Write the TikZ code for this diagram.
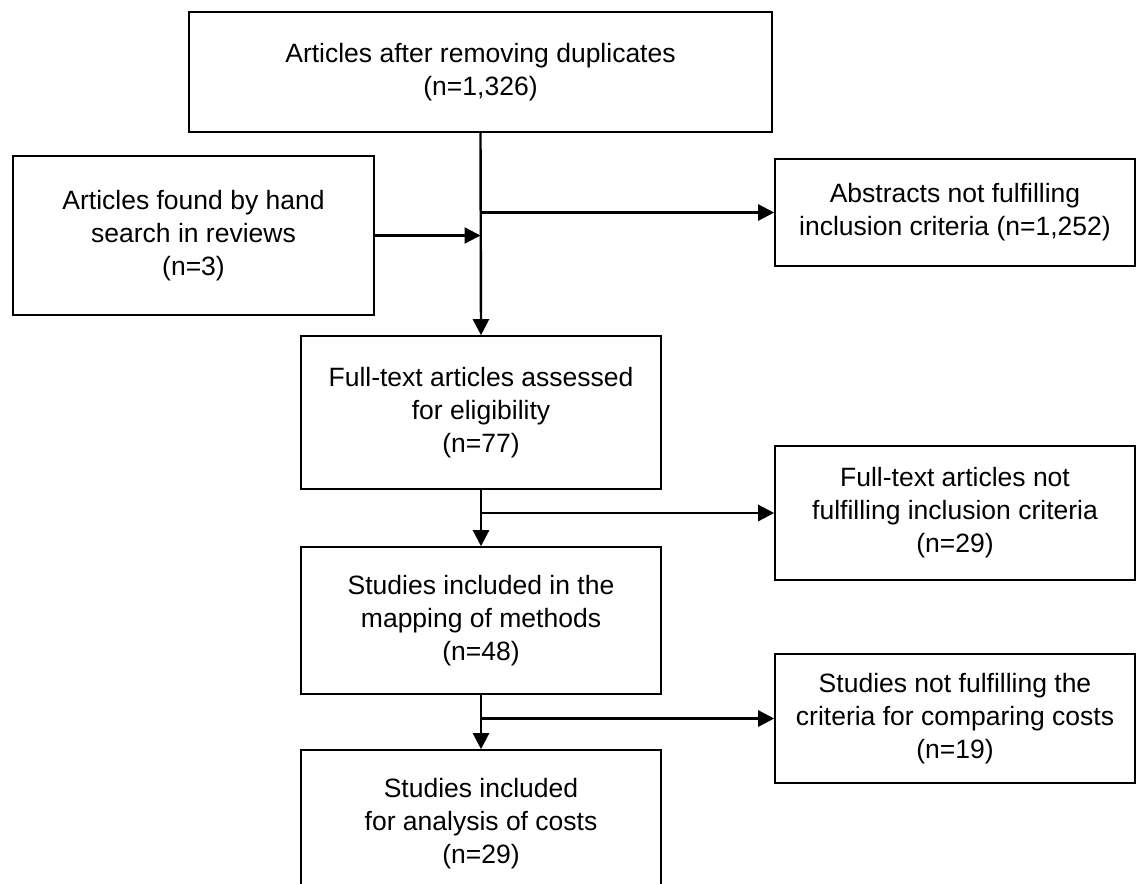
\documentclass[tikz,border=0pt]{standalone}
\usepackage{fontspec}
\setmainfont{Liberation Sans}
\usetikzlibrary{arrows.meta, positioning}

\begin{document}
\begin{tikzpicture}[x=1pt, y=-1pt,
  box/.style={draw, line width=1.6pt, align=center, inner sep=0pt,
    font=\fontsize{26.5}{33}\selectfont},
  arr/.style={line width=2.4pt, -{Triangle[length=16pt,width=16pt]}}]
\clip (0,0) rectangle (1139,883);

% main column
\node[box, minimum width=583pt, minimum height=120pt] (0) at (480.5,72)
  {Articles after removing duplicates\\(n=1,326)};
\node[box, minimum width=360pt, minimum height=153pt] (2) at (481,412.5)
  {Full-text articles assessed\\for eligibility\\(n=77)};
\node[box, minimum width=360pt, minimum height=147pt] (4) at (481,620.5)
  {Studies included in the\\mapping of methods\\(n=48)};
\node[box, minimum width=360pt, minimum height=147pt] (6) at (481,823.5)
  {Studies included\\for analysis of costs\\(n=29)};

% side boxes
\node[box, minimum width=361pt, minimum height=159pt] (1) at (193.5,235.5)
  {Articles found by hand\\search in reviews\\(n=3)};
\node[box, minimum width=360pt, minimum height=107pt] (3) at (955,212.5)
  {Abstracts not fulfilling\\inclusion criteria (n=1,252)};
\node[box, minimum width=360pt, minimum height=134pt] (5) at (955,513)
  {Full-text articles not\\fulfilling inclusion criteria\\(n=29)};
\node[box, minimum width=360pt, minimum height=129pt] (7) at (955,718.5)
  {Studies not fulfilling the\\criteria for comparing costs\\(n=19)};

\draw[arr] (0.south) -- (2.north);
\draw[arr] (1.east) -- (1.east -| 0.south);
\draw[arr] (0.south |- 3.west) -- (3.west);

\draw[arr] (2.south) -- (4.north);
\draw[arr] (2.south |- 5.west) -- (5.west);

\draw[arr] (4.south) -- (6.north);
\draw[arr] (4.south |- 7.west) -- (7.west);

\end{tikzpicture}
\end{document}
